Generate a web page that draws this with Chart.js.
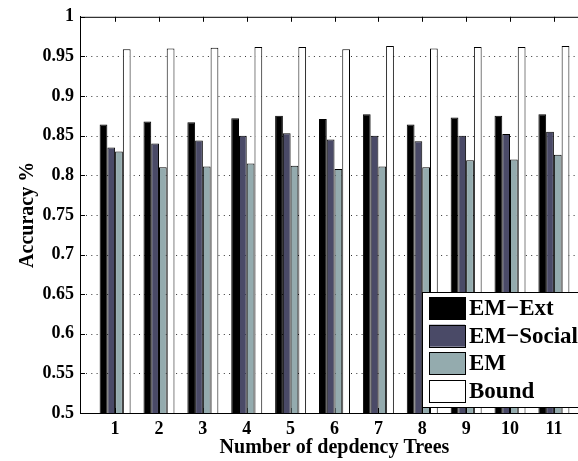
<!DOCTYPE html>
<html>
<head>
<meta charset="utf-8">
<script src="https://cdn.jsdelivr.net/npm/chart.js@4/dist/chart.umd.min.js"></script>
<style>
  html, body { margin: 0; padding: 0; background: #fff; overflow: hidden; }
  #wrap { position: absolute; left: 0; top: 0; }
</style>
</head>
<body>
<div id="wrap"><canvas id="acc" width="600" height="461"></canvas></div>
<script>
// number of dependency trees on the x axis
const trees = [1, 2, 3, 4, 5, 6, 7, 8, 9, 10, 11];

const emExt    = [0.864, 0.868, 0.867, 0.872, 0.875, 0.871, 0.877, 0.864, 0.873, 0.875, 0.877];
const emSocial = [0.835, 0.840, 0.844, 0.850, 0.853, 0.845, 0.850, 0.843, 0.850, 0.852, 0.855];
const emBase   = [0.830, 0.810, 0.811, 0.815, 0.812, 0.808, 0.811, 0.810, 0.819, 0.820, 0.826];
const bound    = [0.959, 0.960, 0.961, 0.962, 0.962, 0.959, 0.963, 0.960, 0.962, 0.962, 0.963];

const yTicks = [0.5, 0.55, 0.6, 0.65, 0.7, 0.75, 0.8, 0.85, 0.9, 0.95, 1];

const serif = '"Liberation Serif", "Times New Roman", serif';

function pts(vals) {
  return trees.map((t, i) => ({ x: t, y: vals[i] }));
}

// dotted y grid, box frame and inward tick marks, matlab style
const frame = {
  id: 'frame',
  beforeDatasetsDraw(chart) {
    const { ctx, chartArea: a, scales } = chart;
    ctx.save();
    ctx.strokeStyle = '#333';
    ctx.lineWidth = 1;
    ctx.setLineDash([1, 4.3]);
    ctx.beginPath();
    yTicks.slice(1, -1).forEach(v => {
      const y = Math.round(scales.y.getPixelForValue(v)) + 0.5;
      ctx.moveTo(a.left + 6, y);
      ctx.lineTo(a.right, y);
    });
    ctx.stroke();
    ctx.setLineDash([]);
    ctx.strokeStyle = '#000';
    ctx.beginPath();
    ctx.moveTo(a.left, a.top + 0.5);
    ctx.lineTo(a.right, a.top + 0.5);
    ctx.moveTo(a.right - 0.5, a.top);
    ctx.lineTo(a.right - 0.5, a.bottom);
    yTicks.forEach(v => {
      const y = Math.round(scales.y.getPixelForValue(v)) + 0.5;
      ctx.moveTo(a.left, y); ctx.lineTo(a.left + 5, y);
      ctx.moveTo(a.right, y); ctx.lineTo(a.right - 5, y);
    });
    trees.forEach(t => {
      const x = Math.round(scales.x.getPixelForValue(t)) + 0.5;
      ctx.moveTo(x, a.top); ctx.lineTo(x, a.top + 5);
      ctx.moveTo(x, a.bottom); ctx.lineTo(x, a.bottom - 5);
    });
    ctx.stroke();
    ctx.restore();
  }
};

// legend box sitting inside the axes, lower right
const boxLegend = {
  id: 'boxLegend',
  afterDatasetsDraw(chart) {
    const { ctx } = chart;
    const left = 422, top = 292, bottom = 407, right = 640;
    ctx.save();
    ctx.fillStyle = '#fff';
    ctx.fillRect(left, top, right - left, bottom - top);
    ctx.strokeStyle = '#000';
    ctx.lineWidth = 1;
    ctx.strokeRect(left + 0.5, top + 0.5, right - left, bottom - top);
    ctx.font = 'bold 23px ' + serif;
    ctx.textBaseline = 'middle';
    chart.data.datasets.forEach((ds, i) => {
      const y = 297 + i * 27.7;
      ctx.fillStyle = ds.backgroundColor;
      ctx.fillRect(429, y, 36, 22);
      ctx.strokeStyle = '#000';
      ctx.strokeRect(429.5, Math.round(y) + 0.5, 36, 22);
      ctx.fillStyle = '#000';
      ctx.fillText(ds.label, 469, y + 12);
    });
    ctx.restore();
  }
};

const mkSet = (label, vals, color) => ({
  label,
  data: pts(vals),
  backgroundColor: color,
  borderColor: '#000',
  borderWidth: 1,
  borderSkipped: false,
  barPercentage: 1,
  categoryPercentage: 0.706
});

new Chart(document.getElementById('acc'), {
  type: 'bar',
  data: {
    datasets: [
      mkSet('EM\u2212Ext', emExt, '#000000'),
      mkSet('EM\u2212Social', emSocial, '#4a4a67'),
      mkSet('EM', emBase, '#94abae'),
      mkSet('Bound', bound, '#ffffff')
    ]
  },
  options: {
    responsive: false,
    animation: false,
    layout: { padding: { top: 12, right: 11, bottom: 0, left: 0 } },
    plugins: {
      legend: { display: false },
      tooltip: { enabled: false }
    },
    scales: {
      x: {
        type: 'linear',
        min: 0.2,
        max: 11.8,
        offset: false,
        afterBuildTicks: s => { s.ticks = trees.map(v => ({ value: v })); },
        afterFit: s => { s.height = 48; },
        grid: { display: false, drawTicks: false },
        border: { color: '#000', width: 1 },
        ticks: {
          padding: 6,
          color: '#000',
          font: { family: serif, size: 18, weight: 'bold' },
          callback: v => String(v)
        },
        title: {
          display: true,
          text: 'Number of depdency Trees',
          color: '#000',
          font: { family: serif, size: 20, weight: 'bold' },
          padding: { top: 0, bottom: 1 }
        }
      },
      y: {
        min: 0.5,
        max: 1,
        afterBuildTicks: s => { s.ticks = yTicks.map(v => ({ value: v })); },
        afterFit: s => { s.width = 80; },
        grid: { display: false, drawTicks: false },
        border: { color: '#000', width: 1 },
        ticks: {
          padding: 6,
          color: '#000',
          font: { family: serif, size: 18, weight: 'bold' },
          callback: v => String(Number(v.toFixed(2)))
        },
        title: {
          display: true,
          text: 'Accuracy %',
          color: '#000',
          font: { family: serif, size: 20, weight: 'bold' },
          padding: { top: 16, bottom: 0 }
        }
      }
    }
  },
  plugins: [frame, boxLegend]
});
</script>
</body>
</html>
